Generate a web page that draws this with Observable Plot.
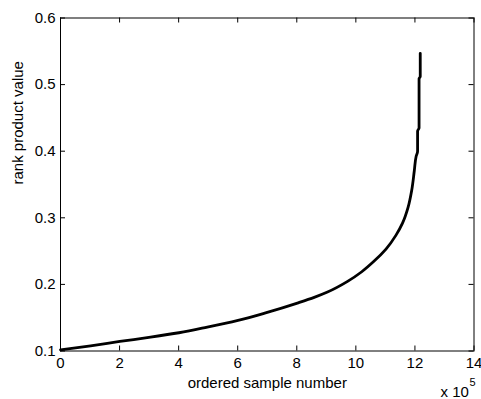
<!DOCTYPE html>
<html>
<head>
<meta charset="utf-8">
<script src="https://cdn.jsdelivr.net/npm/d3@7"></script>
<script src="https://cdn.jsdelivr.net/npm/@observablehq/plot@0.6"></script>
<style>
  html, body { margin: 0; padding: 0; background: #fff; }
  #chart svg { display: block; font-family: 'Liberation Sans', Arial, Helvetica, sans-serif; font-size: 15px; color: #000; background: #fff; }
</style>
</head>
<body>
<div id="chart"></div>
<script>
// ordered sample number (× 10^5)
const sampleNumber = [0, 1.02, 2.01, 3.05, 4.01, 4.97, 6.01, 7.0, 8.02, 8.59, 9.04, 9.72, 10.2, 10.62, 11.02, 11.36, 11.58, 11.77, 11.89, 11.98, 12.04, 12.09, 12.09, 12.14, 12.14, 12.18, 12.18];
// rank product value
const rankProduct = [0.1018, 0.1078, 0.1143, 0.1208, 0.1274, 0.1358, 0.1459, 0.158, 0.172, 0.1805, 0.1885, 0.2045, 0.219, 0.235, 0.253, 0.274, 0.292, 0.316, 0.341, 0.371, 0.392, 0.40, 0.43, 0.435, 0.509, 0.512, 0.547];

const xTicks = [0, 2, 4, 6, 8, 10, 12, 14];
const yTicks = [0.1, 0.2, 0.3, 0.4, 0.5, 0.6];
const xLabel = "ordered sample number";
const yLabel = "rank product value";
const exponentBase = "x 10";
const exponent = "5";

const data = sampleNumber.map((x, i) => ({x, y: rankProduct[i]}));

const W = 481, H = 399, mL = 60, mR = 7.5, mT = 17.5, mB = 48.5;
const plotW = W - mL - mR, plotH = H - mT - mB, tick = 5;

const chart = Plot.plot({
  width: W,
  height: H,
  marginLeft: mL,
  marginRight: mR,
  marginTop: mT,
  marginBottom: mB,
  x: {domain: [0, 14]},
  y: {domain: [0.1, 0.6]},
  marks: [
    // tick labels
    Plot.axisX({ticks: xTicks, anchor: "bottom", tickSize: 0, tickPadding: 6.5, label: null}),
    Plot.axisY({ticks: yTicks, anchor: "left", tickSize: 0, tickPadding: 5, tickFormat: d3.format(".1f"), label: null}),
    // inward ticks on all four sides
    Plot.ruleX(xTicks, {x: d => d, insetTop: plotH - tick, stroke: "black"}),
    Plot.ruleX(xTicks, {x: d => d, insetBottom: plotH - tick, stroke: "black"}),
    Plot.ruleY(yTicks, {y: d => d, insetRight: plotW - tick, stroke: "black"}),
    Plot.ruleY(yTicks, {y: d => d, insetLeft: plotW - tick, stroke: "black"}),
    Plot.frame({stroke: "black"}),
    Plot.line(data, {x: "x", y: "y", curve: "monotone-y", stroke: "black", strokeWidth: 2.8}),
    Plot.text([xLabel], {frameAnchor: "bottom", dy: 37, lineAnchor: "bottom", text: d => d, fill: "black"}),
    Plot.text([yLabel], {frameAnchor: "left", dx: -38, rotate: -90, lineAnchor: "bottom", text: d => d, fill: "black"}),
    Plot.text([exponentBase], {frameAnchor: "bottom-right", dx: -33.5, dy: 45.5, textAnchor: "start", lineAnchor: "bottom", text: d => d, fill: "black"}),
    Plot.text([exponent], {frameAnchor: "bottom-right", dx: -4.5, dy: 35, textAnchor: "start", lineAnchor: "bottom", fontSize: 11, text: d => d, fill: "black"})
  ]
});
document.getElementById("chart").appendChild(chart);
</script>
</body>
</html>
